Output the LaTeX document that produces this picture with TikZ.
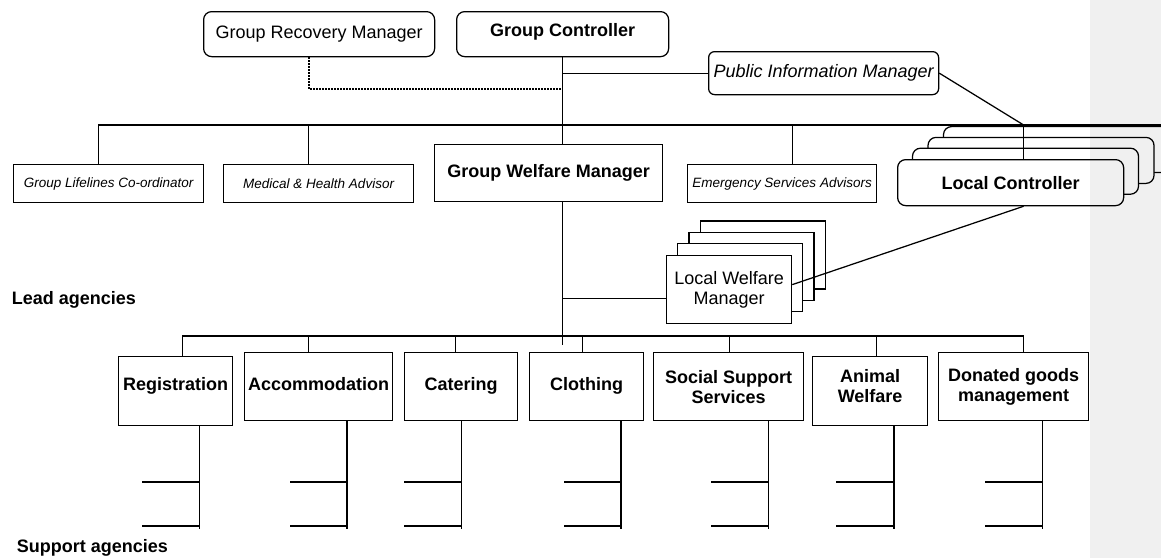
\documentclass[tikz,border=0pt]{standalone}
\usepackage{fontspec}
\setmainfont{Liberation Sans}
\usetikzlibrary{positioning, calc}

\begin{document}
\begin{tikzpicture}[x=1pt, y=-1pt, line width=1.25pt,
    box/.style={draw, fill=white, anchor=north west, inner sep=1pt, align=center,
                font=\fontsize{18}{20}\selectfont},
    bf/.style={font=\fontsize{18}{20}\selectfont\bfseries},
    it/.style={font=\fontsize{18}{20}\selectfont\itshape},
    tiny/.style={font=\fontsize{13.5}{16}\selectfont\itshape},
    rnd/.style={rounded corners=8pt},
    one/.style={text height=13pt, text depth=6pt},
    note/.style={anchor=west, font=\fontsize{18}{20}\selectfont\bfseries}]

  \path[use as bounding box, clip] (0,0) rectangle (1161,558);

  % top tier
  \node[box, rnd, minimum width=231pt, minimum height=45pt] (grm) at (203,11) {Group Recovery Manager};
  \node[box, rnd, bf, minimum width=212pt, minimum height=45pt, text depth=8pt] (gc) at (456,11) {Group Controller};
  \node[box, it, rounded corners=6pt, minimum width=230pt, minimum height=43pt] (pim) at (708,51) {Public Information Manager};

  % advisors and welfare manager
  \node[box, tiny, minimum width=190pt, minimum height=38pt] (life) at (13,164) {Group Lifelines Co-ordinator};
  \node[box, tiny, minimum width=190pt, minimum height=38pt] (med) at (223,164) {Medical \& Health Advisor};
  \node[box, bf, minimum width=228pt, minimum height=57pt] (gwm) at (434,144) {Group Welfare Manager};
  \node[box, tiny, minimum width=189pt, minimum height=38pt] (esa) at (687,164) {Emergency Services Advisors};

  % local controllers (stack)
  \foreach \i in {3,2,1}
    \draw[fill=white, rnd] (897+15.5*\i, 159-10.8*\i) rectangle ++(226,46);
  \node[box, rnd, bf, minimum width=226pt, minimum height=46pt] (lc) at (897,159) {Local Controller};

  % local welfare managers (stack)
  \foreach \i in {3,2,1}
    \draw[fill=white] (666+11.5*\i, 255-11.3*\i) rectangle ++(125,68);
  \node[box, minimum width=125pt, minimum height=68pt] (lwm) at (666,255) {Local Welfare\\Manager};

  % lead agencies
  \node[box, bf, minimum width=114pt, minimum height=69pt, text height=13pt, text depth=15pt] (reg) at (118,356) {Registration};
  \node[box, bf, one, minimum width=148pt, minimum height=68pt] (acc) at (244,352) {Accommodation};
  \node[box, bf, one, minimum width=113pt, minimum height=68pt] (cat) at (404,352) {Catering};
  \node[box, bf, one, minimum width=114pt, minimum height=68pt] (clo) at (529,352) {Clothing};
  \node[box, bf, minimum width=150pt, minimum height=68pt] (soc) at (653,352) {Social Support\\Services};
  \node[box, bf, minimum width=115pt, minimum height=69pt, text depth=11pt] (ani) at (812,356) {Animal\\Welfare};
  \node[box, bf, minimum width=150pt, minimum height=68pt] (don) at (938,352) {Donated goods\\management};

  \node[note] (lead) at (8,300) {Lead agencies};
  \node[note] (supp) at (13,548) {Support agencies};

  \coordinate (barR) at (1161,125);
  \coordinate (dj) at ($(gc.south)+(0,32)$);
  \coordinate (lwmin) at ($(lwm.west)+(0,8.7)$);
  \coordinate (stubA) at (0,482);
  \coordinate (stubB) at (0,526);
  \coordinate (sbot) at (0,529);

  % links
  \draw (gc.south) -- (gc.south |- gwm.north);
  \draw[line width=1.6pt, dash pattern=on 1.6pt off 1.4pt] ($(grm.south)+(-10,0)$) |- (dj);
  \draw (pim.west) -- (pim.west -| gc.south);
  \draw ($(life.north)+(-10,0)$) -- ++(0,-39) -- (barR);
  \draw ($(med.north)+(-10,0)$) -- ++(0,-39);
  \draw ($(esa.north)+(10.5,0)$) -- ++(0,-39);
  \draw ($(lc.north)+(13,0)$) -- ++(0,-34) coordinate (lcbar);
  \draw (pim.east) -- (lcbar);
  \draw (gwm.south -| gc.south) -- ++(0,143);
  \draw (lwmin) -- (lwmin -| gc.south);
  \draw ($(lwm.east)+(0,-5)$) -- ($(lc.south)+(13,0)$);

  \draw ($(reg.north)+(7,0)$) -- ++(0,-20) -| ($(don.north)+(10,0)$);
  \foreach \n/\dx/\dy in {acc/-10/-16, cat/-5.5/-16, clo/-4/-16, soc/1/-16, ani/6.5/-20}
    \draw ($(\n.north)+(\dx,0)$) -- ++(0,\dy);

  % support agencies
  \foreach \n/\dx in {reg/24, acc/28.4, cat/0.5, clo/34.4, soc/39.7, ani/23.8, don/28.7} {
    \coordinate (\n-d) at ($(\n.south)+(\dx,0)$);
    \draw (\n-d) -- (\n-d |- sbot);
    \draw (\n-d |- stubA) -- ++(-57.5,0);
    \draw (\n-d |- stubB) -- ++(-57.5,0);
  }

  % margin panel
  \fill[black, fill opacity=0.06] (1090,0) rectangle (1161,558);
\end{tikzpicture}
\end{document}
